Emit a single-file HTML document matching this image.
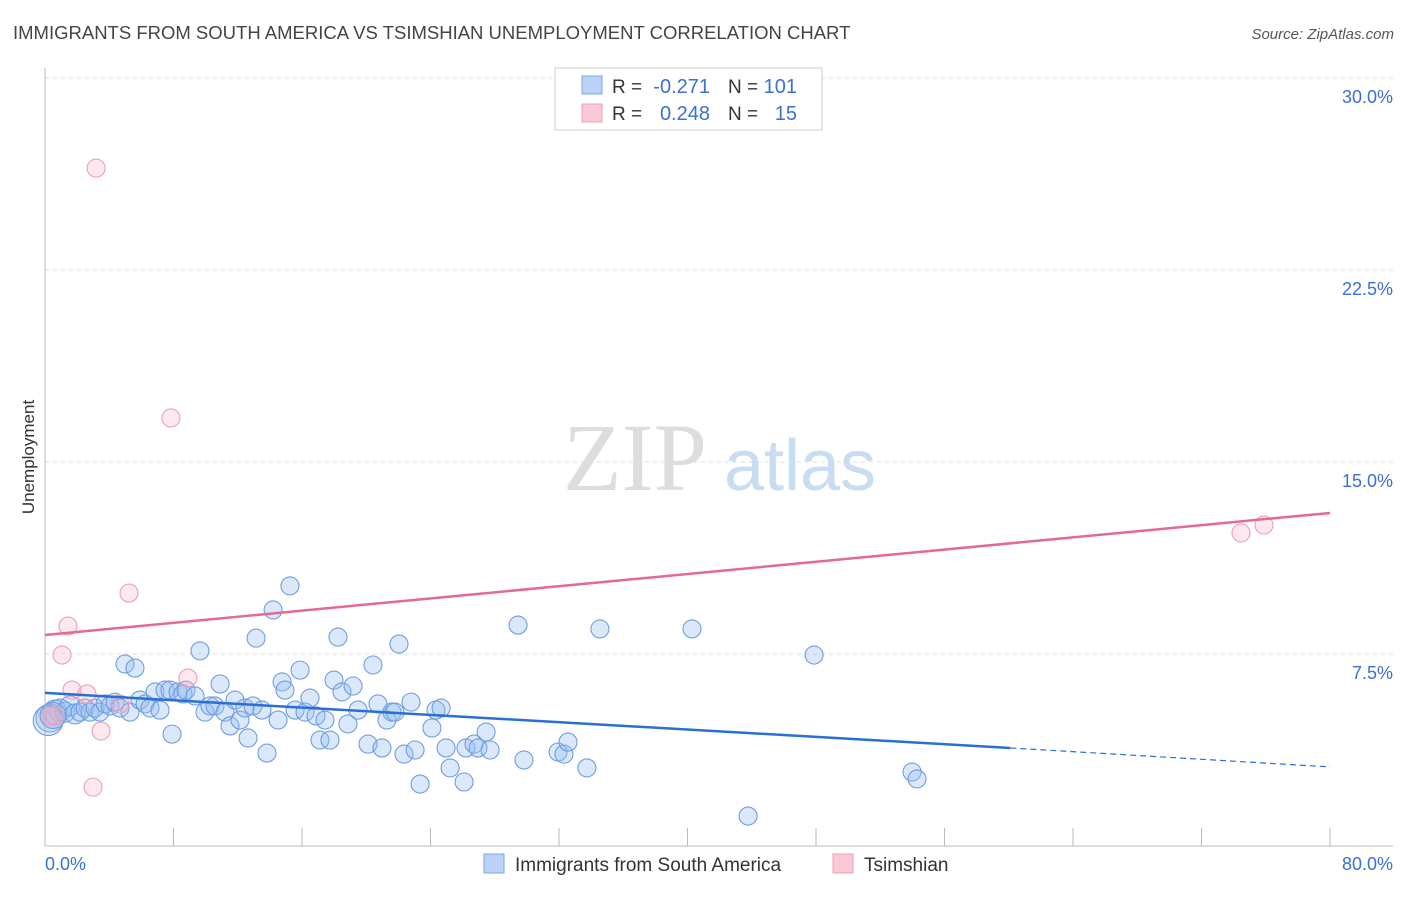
<!DOCTYPE html>
<html><head><meta charset="utf-8"><style>
body{margin:0;background:#fff;font-family:"Liberation Sans",sans-serif;}
</style></head><body>
<svg width="1406" height="892" viewBox="0 0 1406 892" xmlns="http://www.w3.org/2000/svg">
<text x="13" y="39" font-size="18.5" fill="#444">IMMIGRANTS FROM SOUTH AMERICA VS TSIMSHIAN UNEMPLOYMENT CORRELATION CHART</text>
<text x="1394" y="39" font-size="15" fill="#555" font-style="italic" text-anchor="end">Source: ZipAtlas.com</text>
<g id="grid"></g>
<g id="watermark">
<text x="635" y="490" font-family="Liberation Serif,serif" font-size="96" fill="#ddd" text-anchor="middle">ZIP</text>
<text x="800" y="490" font-size="72" fill="#c8dcf2" text-anchor="middle">atlas</text></g>
<line x1="45" y1="68" x2="45" y2="846" stroke="#bbb"/>
<line x1="45" y1="846" x2="1393" y2="846" stroke="#bbb"/>
<g id="xticks"></g>
<g id="ylabels"></g>
<text x="34" y="457" font-size="17" fill="#333" text-anchor="middle" transform="rotate(-90 34 457)">Unemployment</text>
<text x="45" y="870" font-size="18" fill="#3a6fd8">0.0%</text>
<text x="1393" y="870" font-size="18" fill="#3a6fd8" text-anchor="end">80.0%</text>
<g id="pts"></g>
<g id="trends"></g>
<g>
<rect x="555" y="68" width="267" height="62" fill="#fff" stroke="#ccc"/>
<rect x="582" y="76" width="20" height="18" fill="#b9d2f5" stroke="#7aa6e6"/>
<rect x="582" y="104" width="20" height="18" fill="#f9c9d6" stroke="#eba0b6"/>
<text x="612" y="93" font-size="19" fill="#333">R =</text>
<text x="710" y="93" font-size="20" fill="#3a6fd8" text-anchor="end">-0.271</text>
<text x="728" y="93" font-size="19" fill="#333">N =</text>
<text x="797" y="93" font-size="20" fill="#3a6fd8" text-anchor="end">101</text>
<text x="612" y="120" font-size="19" fill="#333">R =</text>
<text x="710" y="120" font-size="20" fill="#3a6fd8" text-anchor="end">0.248</text>
<text x="728" y="120" font-size="19" fill="#333">N =</text>
<text x="797" y="120" font-size="20" fill="#3a6fd8" text-anchor="end">15</text>
</g>
<g>
<rect x="484" y="854" width="20" height="19" fill="#b9d2f5" stroke="#7aa6e6"/>
<text x="515" y="871" font-size="19" fill="#333">Immigrants from South America</text>
<rect x="833" y="854" width="20" height="19" fill="#f9c9d6" stroke="#eba0b6"/>
<text x="864" y="871" font-size="19" fill="#333">Tsimshian</text>
</g>
</svg>
<script>
const blueX=[0.31,0.62,0.93,1.25,1.56,1.87,2.18,2.49,2.80,3.11,3.42,3.74,4.05,4.36,4.67,4.98,5.29,5.60,5.91,6.23,6.54,6.85,7.16,7.47,7.78,7.91,8.28,8.59,8.78,9.34,9.65,9.96,10.27,10.58,10.90,11.21,11.52,11.83,12.14,12.45,12.64,12.95,13.14,13.51,13.82,14.20,14.51,14.76,14.94,15.25,15.57,15.88,16.19,16.50,16.87,17.12,17.43,17.74,17.99,18.24,18.49,18.86,19.18,19.49,20.11,20.42,20.73,20.98,21.29,21.60,21.79,22.04,22.35,22.79,23.04,23.35,24.09,24.34,24.66,24.97,25.22,26.09,26.21,26.71,26.96,27.46,27.71,29.45,29.82,31.94,32.31,32.56,33.74,34.55,40.28,43.77,47.88,53.98,54.29,0.2,0.5];
const blueY=[5.00,5.23,5.31,5.23,5.47,5.16,5.23,5.39,5.23,5.39,5.23,5.55,5.47,5.62,5.39,7.11,5.23,6.95,5.70,5.55,5.39,6.02,5.31,6.09,6.09,4.37,6.02,5.94,6.09,5.86,7.62,5.23,5.47,5.47,6.33,5.23,4.69,5.70,4.92,5.39,4.22,5.47,8.12,5.31,3.63,9.22,4.92,6.41,6.09,10.16,5.31,6.87,5.23,5.78,5.08,4.14,4.92,4.14,6.48,8.16,6.02,4.77,6.25,5.31,3.98,7.07,5.55,3.83,4.92,5.23,5.23,7.89,3.59,5.62,3.75,2.42,4.61,5.31,5.39,3.83,3.05,2.50,3.83,3.98,3.83,4.45,3.75,8.63,3.36,3.67,3.59,4.06,3.05,8.48,8.48,1.17,7.46,2.89,2.62,4.9,5.1];
const blueR=[14,12,11,10,10,10,9,9,9,9,9,9,9,9,9,9,9,9,9,9,9,9,9,9,9,9,9,9,9,9,9,9,9,9,9,9,9,9,9,9,9,9,9,9,9,9,9,9,9,9,9,9,9,9,9,9,9,9,9,9,9,9,9,9,9,9,9,9,9,9,9,9,9,9,9,9,9,9,9,9,9,9,9,9,9,9,9,9,9,9,9,9,9,9,9,9,9,9,9,15,13];
const pinkX=[3.18,7.84,5.23,1.43,1.06,1.68,2.61,3.49,2.99,8.90,4.67,0.62,0.31,74.46,75.89];
const pinkY=[26.48,16.72,9.88,8.59,7.46,6.09,5.94,4.49,2.30,6.56,5.55,5.08,5.08,12.23,12.54];
const blueTrend=[5.98,3.83,3.09];
const blueTrendX=[0,60.1,80];
const pinkTrend=[8.24,13.01];
const pinkTrendX=[0,80];
const yTicks=[7.5,15,22.5,30];
const yTickLabels=["7.5%","15.0%","22.5%","30.0%"];
const xTicks=[0,8,16,24,32,40,48,56,64,72,80];
const NS="http://www.w3.org/2000/svg";
const sx=v=>45+v/80*1285, sy=v=>846-v/7.5*192;
function mk(t,a,p){const e=document.createElementNS(NS,t);for(const k in a)e.setAttribute(k,a[k]);p.appendChild(e);return e;}
const grid=document.getElementById('grid'),yl=document.getElementById('ylabels'),xt=document.getElementById('xticks');
yTicks.forEach((v,i)=>{const l=mk('line',{x1:45,x2:1393,y1:sy(v),y2:sy(v),stroke:'#ddd','stroke-dasharray':'4,4'},grid);


const t=mk('text',{x:1393,y:sy(v)+25,'font-size':18,fill:'#3a6fd8','text-anchor':'end'},yl);t.textContent=yTickLabels[i];

});
xTicks.forEach(v=>{const l=mk('line',{x1:sx(v),x2:sx(v),y1:828,y2:846,stroke:'#bbb'},xt);

});
const pts=document.getElementById('pts');
blueX.forEach((x,i)=>{const c=mk('circle',{cx:sx(x),cy:sy(blueY[i]),r:blueR[i],fill:'rgba(150,190,240,0.35)',stroke:'#6f9de0','stroke-width':1.1},pts);

});
pinkX.forEach((x,i)=>{const c=mk('circle',{cx:sx(x),cy:sy(pinkY[i]),r:9,fill:'rgba(245,180,200,0.3)',stroke:'#eba0b6','stroke-width':1.1},pts);

});
const tr=document.getElementById('trends');
let l1=mk('line',{x1:sx(blueTrendX[0]),y1:sy(blueTrend[0]),x2:sx(blueTrendX[1]),y2:sy(blueTrend[1]),stroke:'#2a6fd6','stroke-width':2.5},tr);


let l2=mk('line',{x1:sx(blueTrendX[1]),y1:sy(blueTrend[1]),x2:sx(blueTrendX[2]),y2:sy(blueTrend[2]),stroke:'#2a6fd6','stroke-width':1.2,'stroke-dasharray':'6,4'},tr);


let l3=mk('line',{x1:sx(pinkTrendX[0]),y1:sy(pinkTrend[0]),x2:sx(pinkTrendX[1]),y2:sy(pinkTrend[1]),stroke:'#e46a92','stroke-width':2.5},tr);


</script>
</body></html>
